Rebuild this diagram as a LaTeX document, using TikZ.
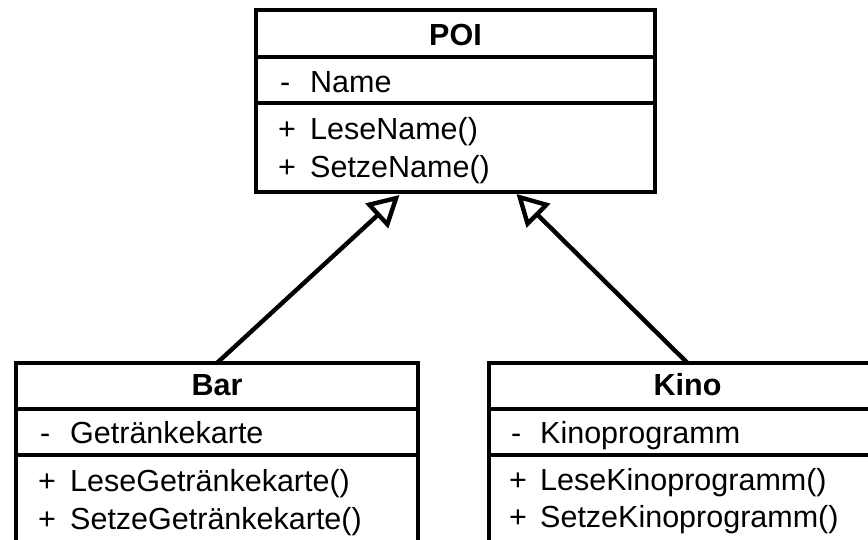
\documentclass[tikz,border=0pt]{standalone}
\usepackage{fontspec}
\setmainfont{Liberation Sans}
\usetikzlibrary{arrows.meta,calc}
\begin{document}
\begin{tikzpicture}[x=1pt,y=-1pt,
  classbox/.style={draw, line width=4.4pt, inner sep=0pt, outer sep=0pt, rectangle},
  sepline/.style={line width=4.4pt},
  txt/.style={anchor=base west, inner sep=0pt, font=\fontsize{30.5}{36}\selectfont},
  ttl/.style={anchor=base, inner sep=0pt, font=\fontsize{30.5}{36}\selectfont\bfseries},
  gen/.style={line width=4.4pt, -{Triangle[open, length=31pt, width=33pt]}}]
\useasboundingbox (0,0) rectangle (868,539);
\clip (0,0) rectangle (868,539);
% POI
\node[classbox, minimum width=399pt, minimum height=182pt] (poi) at (455.5,101) {};
\draw[sepline] ($(poi.north west)+(0,47)$) -- ($(poi.north east)+(0,47)$);
\draw[sepline] ($(poi.north west)+(0,93)$) -- ($(poi.north east)+(0,93)$);
\node[ttl] (poit) at (455.5,45) {POI};
\node[txt] (poia1s) at (280,92) {-};
\node[txt] (poia1) at (310,92) {Name};
\node[txt] (poim1s) at (278,139) {+};
\node[txt] (poim1) at (310,139) {LeseName()};
\node[txt] (poim2s) at (278,177) {+};
\node[txt] (poim2) at (310,177) {SetzeName()};
% Bar
\node[classbox, minimum width=402pt, minimum height=237pt] (bar) at (217,481.5) {};
\draw[sepline] ($(bar.north west)+(0,46)$) -- ($(bar.north east)+(0,46)$);
\draw[sepline] ($(bar.north west)+(0,92)$) -- ($(bar.north east)+(0,92)$);
\node[ttl] (bart) at (217,395) {Bar};
\node[txt] (bara1s) at (40,443) {-};
\node[txt] (bara1) at (70,443) {Getränkekarte};
\node[txt] (barm1s) at (38,491) {+};
\node[txt] (barm1) at (70,491) {LeseGetränkekarte()};
\node[txt] (barm2s) at (38,529) {+};
\node[txt] (barm2) at (70,529) {SetzeGetränkekarte()};
% Kino
\node[classbox, minimum width=397pt, minimum height=237pt] (kino) at (687.5,481.5) {};
\draw[sepline] ($(kino.north west)+(0,46)$) -- ($(kino.north east)+(0,46)$);
\draw[sepline] ($(kino.north west)+(0,92)$) -- ($(kino.north east)+(0,92)$);
\node[ttl] (kinot) at (687.5,395) {Kino};
\node[txt] (kinoa1s) at (511,443) {-};
\node[txt] (kinoa1) at (540,443) {Kinoprogramm};
\node[txt] (kinom1s) at (509,490) {+};
\node[txt] (kinom1) at (540,490) {LeseKinoprogramm()};
\node[txt] (kinom2s) at (509,527) {+};
\node[txt] (kinom2) at (540,527) {SetzeKinoprogramm()};
% generalization arrows
\draw[gen] (bar.north) -- ($(poi.south)+(-56,3)$);
\draw[gen] (kino.north) -- ($(poi.south)+(61,2)$);
\end{tikzpicture}
\end{document}
